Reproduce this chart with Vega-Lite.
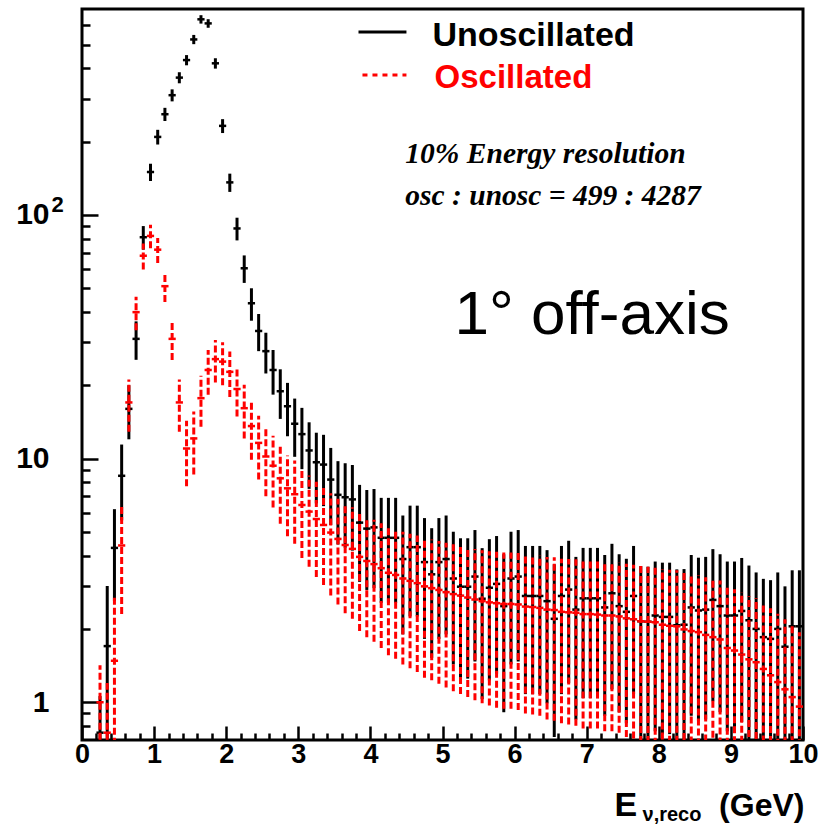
{
  "$schema": "https://vega.github.io/schema/vega-lite/v6.json",
  "width": 721,
  "height": 731,
  "autosize": {"type": "none"},
  "padding": {"left": 82, "top": 9, "right": 15, "bottom": 88},
  "background": "white",
  "config": {"view": {"stroke": "black", "strokeWidth": 3}, "axis": {"grid": false, "domain": false}},
  "resolve": {"axis": {"x": "independent", "y": "independent"}},
  "datasets": {
    "unosc": [
      {"x":0.25,"x0":0.2,"x1":0.3,"v":0.75,"lo":0.3,"hi":1.06},
      {"x":0.35,"x0":0.3,"x1":0.4,"v":1.7,"lo":0.45,"hi":3.0},
      {"x":0.45,"x0":0.4,"x1":0.5,"v":4.3,"lo":2.6,"hi":6.2},
      {"x":0.55,"x0":0.5,"x1":0.6,"v":8.5,"lo":5.58,"hi":11.42},
      {"x":0.65,"x0":0.6,"x1":0.7,"v":16,"lo":12,"hi":20},
      {"x":0.75,"x0":0.7,"x1":0.8,"v":31,"lo":25.43,"hi":36.57},
      {"x":0.85,"x0":0.8,"x1":0.9,"v":81,"lo":72,"hi":90},
      {"x":0.95,"x0":0.9,"x1":1.0,"v":150,"lo":137.8,"hi":162.2},
      {"x":1.05,"x0":1.0,"x1":1.1,"v":209,"lo":194.5,"hi":223.5},
      {"x":1.15,"x0":1.1,"x1":1.2,"v":259,"lo":242.9,"hi":275.1},
      {"x":1.25,"x0":1.2,"x1":1.3,"v":310,"lo":292.4,"hi":327.6},
      {"x":1.35,"x0":1.3,"x1":1.4,"v":366,"lo":346.9,"hi":385.1},
      {"x":1.45,"x0":1.4,"x1":1.5,"v":432,"lo":411.2,"hi":452.8},
      {"x":1.55,"x0":1.5,"x1":1.6,"v":525,"lo":502.1,"hi":547.9},
      {"x":1.65,"x0":1.6,"x1":1.7,"v":635,"lo":609.8,"hi":660.2},
      {"x":1.75,"x0":1.7,"x1":1.8,"v":611,"lo":586.3,"hi":635.7},
      {"x":1.85,"x0":1.8,"x1":1.9,"v":419,"lo":398.5,"hi":439.5},
      {"x":1.95,"x0":1.9,"x1":2.0,"v":232,"lo":216.8,"hi":247.2},
      {"x":2.05,"x0":2.0,"x1":2.1,"v":136,"lo":124.3,"hi":147.7},
      {"x":2.15,"x0":2.1,"x1":2.2,"v":88,"lo":78.6,"hi":97.4},
      {"x":2.25,"x0":2.2,"x1":2.3,"v":60.4,"lo":52.6,"hi":68.2},
      {"x":2.35,"x0":2.3,"x1":2.4,"v":43.4,"lo":36.8,"hi":50.0},
      {"x":2.45,"x0":2.4,"x1":2.5,"v":33.4,"lo":27.6,"hi":39.2},
      {"x":2.55,"x0":2.5,"x1":2.6,"v":27.6,"lo":22.35,"hi":32.85},
      {"x":2.65,"x0":2.6,"x1":2.7,"v":23.1,"lo":18.3,"hi":27.9},
      {"x":2.75,"x0":2.7,"x1":2.8,"v":18.9,"lo":14.55,"hi":23.25},
      {"x":2.85,"x0":2.8,"x1":2.9,"v":16.4,"lo":12.35,"hi":20.45},
      {"x":2.95,"x0":2.9,"x1":3.0,"v":13.9,"lo":10.17,"hi":17.63},
      {"x":3.05,"x0":3.0,"x1":3.1,"v":12.6,"lo":9.05,"hi":16.15},
      {"x":3.15,"x0":3.1,"x1":3.2,"v":10.8,"lo":7.51,"hi":14.09},
      {"x":3.25,"x0":3.2,"x1":3.3,"v":9.66,"lo":6.55,"hi":12.77},
      {"x":3.35,"x0":3.3,"x1":3.4,"v":9.45,"lo":6.38,"hi":12.52},
      {"x":3.45,"x0":3.4,"x1":3.5,"v":8.2,"lo":5.34,"hi":11.06},
      {"x":3.55,"x0":3.5,"x1":3.6,"v":7.1,"lo":4.44,"hi":9.76},
      {"x":3.65,"x0":3.6,"x1":3.7,"v":6.94,"lo":4.31,"hi":9.57},
      {"x":3.75,"x0":3.7,"x1":3.8,"v":6.8,"lo":4.19,"hi":9.41},
      {"x":3.85,"x0":3.8,"x1":3.9,"v":5.46,"lo":3.12,"hi":7.8},
      {"x":3.95,"x0":3.9,"x1":4.0,"v":5.16,"lo":2.89,"hi":7.43},
      {"x":4.05,"x0":4.0,"x1":4.1,"v":5.22,"lo":2.94,"hi":7.5},
      {"x":4.15,"x0":4.1,"x1":4.2,"v":4.73,"lo":2.56,"hi":6.9},
      {"x":4.25,"x0":4.2,"x1":4.3,"v":4.73,"lo":2.56,"hi":6.9},
      {"x":4.35,"x0":4.3,"x1":4.4,"v":4.73,"lo":2.56,"hi":6.9},
      {"x":4.45,"x0":4.4,"x1":4.5,"v":3.87,"lo":1.9,"hi":5.84},
      {"x":4.55,"x0":4.5,"x1":4.6,"v":4.33,"lo":2.25,"hi":6.41},
      {"x":4.65,"x0":4.6,"x1":4.7,"v":4.33,"lo":2.25,"hi":6.41},
      {"x":4.75,"x0":4.7,"x1":4.8,"v":3.76,"lo":1.82,"hi":5.7},
      {"x":4.85,"x0":4.8,"x1":4.9,"v":3.35,"lo":1.52,"hi":5.18},
      {"x":4.95,"x0":4.9,"x1":5.0,"v":3.76,"lo":1.82,"hi":5.7},
      {"x":5.05,"x0":5.0,"x1":5.1,"v":3.87,"lo":1.9,"hi":5.84},
      {"x":5.15,"x0":5.1,"x1":5.2,"v":3.22,"lo":1.43,"hi":5.01},
      {"x":5.25,"x0":5.2,"x1":5.3,"v":2.98,"lo":1.25,"hi":4.71},
      {"x":5.35,"x0":5.3,"x1":5.4,"v":2.98,"lo":1.25,"hi":4.71},
      {"x":5.45,"x0":5.4,"x1":5.5,"v":3.28,"lo":1.47,"hi":5.09},
      {"x":5.55,"x0":5.5,"x1":5.6,"v":2.66,"lo":1.03,"hi":4.29},
      {"x":5.65,"x0":5.6,"x1":5.7,"v":2.95,"lo":1.23,"hi":4.67},
      {"x":5.75,"x0":5.7,"x1":5.8,"v":3.06,"lo":1.31,"hi":4.81},
      {"x":5.85,"x0":5.8,"x1":5.9,"v":2.48,"lo":0.91,"hi":4.05},
      {"x":5.95,"x0":5.9,"x1":6.0,"v":3.22,"lo":1.43,"hi":5.01},
      {"x":6.05,"x0":6.0,"x1":6.1,"v":3.28,"lo":1.47,"hi":5.09},
      {"x":6.15,"x0":6.1,"x1":6.2,"v":2.73,"lo":1.08,"hi":4.38},
      {"x":6.25,"x0":6.2,"x1":6.3,"v":2.73,"lo":1.08,"hi":4.38},
      {"x":6.35,"x0":6.3,"x1":6.4,"v":2.73,"lo":1.08,"hi":4.38},
      {"x":6.45,"x0":6.4,"x1":6.5,"v":2.6,"lo":0.99,"hi":4.21},
      {"x":6.55,"x0":6.5,"x1":6.6,"v":2.2,"lo":0.72,"hi":3.68},
      {"x":6.65,"x0":6.6,"x1":6.7,"v":2.73,"lo":1.08,"hi":4.38},
      {"x":6.75,"x0":6.7,"x1":6.8,"v":2.9,"lo":1.2,"hi":4.6},
      {"x":6.85,"x0":6.8,"x1":6.9,"v":2.4,"lo":0.85,"hi":3.95},
      {"x":6.95,"x0":6.9,"x1":7.0,"v":2.67,"lo":1.04,"hi":4.3},
      {"x":7.05,"x0":7.0,"x1":7.1,"v":2.67,"lo":1.04,"hi":4.3},
      {"x":7.15,"x0":7.1,"x1":7.2,"v":2.67,"lo":1.04,"hi":4.3},
      {"x":7.25,"x0":7.2,"x1":7.3,"v":2.45,"lo":0.88,"hi":4.02},
      {"x":7.35,"x0":7.3,"x1":7.4,"v":2.8,"lo":1.13,"hi":4.47},
      {"x":7.45,"x0":7.4,"x1":7.5,"v":2.48,"lo":0.91,"hi":4.05},
      {"x":7.55,"x0":7.5,"x1":7.6,"v":2.35,"lo":0.82,"hi":3.88},
      {"x":7.65,"x0":7.6,"x1":7.7,"v":2.73,"lo":1.08,"hi":4.38},
      {"x":7.75,"x0":7.7,"x1":7.8,"v":2.15,"lo":0.68,"hi":3.62},
      {"x":7.85,"x0":7.8,"x1":7.9,"v":2.14,"lo":0.68,"hi":3.6},
      {"x":7.95,"x0":7.9,"x1":8.0,"v":2.27,"lo":0.76,"hi":3.78},
      {"x":8.05,"x0":8.0,"x1":8.1,"v":2.24,"lo":0.74,"hi":3.74},
      {"x":8.15,"x0":8.1,"x1":8.2,"v":2.24,"lo":0.74,"hi":3.74},
      {"x":8.25,"x0":8.2,"x1":8.3,"v":2.07,"lo":0.63,"hi":3.51},
      {"x":8.35,"x0":8.3,"x1":8.4,"v":2.08,"lo":0.64,"hi":3.52},
      {"x":8.45,"x0":8.4,"x1":8.5,"v":2.45,"lo":0.88,"hi":4.02},
      {"x":8.55,"x0":8.5,"x1":8.6,"v":2.38,"lo":0.84,"hi":3.92},
      {"x":8.65,"x0":8.6,"x1":8.7,"v":2.4,"lo":0.85,"hi":3.95},
      {"x":8.75,"x0":8.7,"x1":8.8,"v":2.63,"lo":1.01,"hi":4.25},
      {"x":8.85,"x0":8.8,"x1":8.9,"v":2.48,"lo":0.91,"hi":4.05},
      {"x":8.95,"x0":8.9,"x1":9.0,"v":2.27,"lo":0.76,"hi":3.78},
      {"x":9.05,"x0":9.0,"x1":9.1,"v":2.27,"lo":0.76,"hi":3.78},
      {"x":9.15,"x0":9.1,"x1":9.2,"v":2.37,"lo":0.83,"hi":3.91},
      {"x":9.25,"x0":9.2,"x1":9.3,"v":2.17,"lo":0.7,"hi":3.64},
      {"x":9.35,"x0":9.3,"x1":9.4,"v":2.0,"lo":0.59,"hi":3.41},
      {"x":9.45,"x0":9.4,"x1":9.5,"v":1.85,"lo":0.49,"hi":3.21},
      {"x":9.55,"x0":9.5,"x1":9.6,"v":1.82,"lo":0.47,"hi":3.17},
      {"x":9.65,"x0":9.6,"x1":9.7,"v":2.0,"lo":0.59,"hi":3.41},
      {"x":9.75,"x0":9.7,"x1":9.8,"v":1.69,"lo":0.39,"hi":2.99},
      {"x":9.85,"x0":9.8,"x1":9.9,"v":2.05,"lo":0.62,"hi":3.48},
      {"x":9.95,"x0":9.9,"x1":10.0,"v":2.05,"lo":0.62,"hi":3.48}
    ],
    "osc": [
      {"x":0.25,"x0":0.2,"x1":0.3,"v":1.0,"lo":0.3,"hi":1.42},
      {"x":0.35,"x0":0.3,"x1":0.4,"v":0.75,"lo":0.3,"hi":1.2},
      {"x":0.45,"x0":0.4,"x1":0.5,"v":1.48,"lo":0.26,"hi":2.7},
      {"x":0.55,"x0":0.5,"x1":0.6,"v":4.4,"lo":2.3,"hi":6.5},
      {"x":0.65,"x0":0.6,"x1":0.7,"v":17.0,"lo":12.88,"hi":21.12},
      {"x":0.75,"x0":0.7,"x1":0.8,"v":39.9,"lo":33.6,"hi":46.2},
      {"x":0.85,"x0":0.8,"x1":0.9,"v":68,"lo":59.75,"hi":76.25},
      {"x":0.95,"x0":0.9,"x1":1.0,"v":82,"lo":72.94,"hi":91.06},
      {"x":1.05,"x0":1.0,"x1":1.1,"v":72,"lo":63.5,"hi":80.5},
      {"x":1.15,"x0":1.1,"x1":1.2,"v":51,"lo":43.9,"hi":58.1},
      {"x":1.25,"x0":1.2,"x1":1.3,"v":31,"lo":25.4,"hi":36.6},
      {"x":1.35,"x0":1.3,"x1":1.4,"v":17,"lo":12.9,"hi":21.1},
      {"x":1.45,"x0":1.4,"x1":1.5,"v":11,"lo":7.7,"hi":14.3},
      {"x":1.55,"x0":1.5,"x1":1.6,"v":12.1,"lo":8.6,"hi":15.6},
      {"x":1.65,"x0":1.6,"x1":1.7,"v":17.7,"lo":13.5,"hi":21.9},
      {"x":1.75,"x0":1.7,"x1":1.8,"v":23.1,"lo":18.3,"hi":27.9},
      {"x":1.85,"x0":1.8,"x1":1.9,"v":25.6,"lo":20.5,"hi":30.7},
      {"x":1.95,"x0":1.9,"x1":2.0,"v":25.0,"lo":20.0,"hi":30.0},
      {"x":2.05,"x0":2.0,"x1":2.1,"v":22.7,"lo":17.9,"hi":27.5},
      {"x":2.15,"x0":2.1,"x1":2.2,"v":19.3,"lo":14.9,"hi":23.7},
      {"x":2.25,"x0":2.2,"x1":2.3,"v":16.1,"lo":12.1,"hi":20.1},
      {"x":2.35,"x0":2.3,"x1":2.4,"v":13.6,"lo":9.9,"hi":17.3},
      {"x":2.45,"x0":2.4,"x1":2.5,"v":11.6,"lo":8.2,"hi":15.0},
      {"x":2.55,"x0":2.5,"x1":2.6,"v":10.2,"lo":7.0,"hi":13.4},
      {"x":2.65,"x0":2.6,"x1":2.7,"v":9.35,"lo":6.3,"hi":12.4},
      {"x":2.75,"x0":2.7,"x1":2.8,"v":8.3,"lo":5.4,"hi":11.2},
      {"x":2.85,"x0":2.8,"x1":2.9,"v":7.55,"lo":4.8,"hi":10.3},
      {"x":2.95,"x0":2.9,"x1":3.0,"v":7.14,"lo":4.47,"hi":9.81},
      {"x":3.05,"x0":3.0,"x1":3.1,"v":6.45,"lo":3.91,"hi":8.99},
      {"x":3.15,"x0":3.1,"x1":3.2,"v":6.06,"lo":3.6,"hi":8.52},
      {"x":3.25,"x0":3.2,"x1":3.3,"v":5.65,"lo":3.27,"hi":8.03},
      {"x":3.35,"x0":3.3,"x1":3.4,"v":5.34,"lo":3.03,"hi":7.65},
      {"x":3.45,"x0":3.4,"x1":3.5,"v":4.97,"lo":2.74,"hi":7.2},
      {"x":3.55,"x0":3.5,"x1":3.6,"v":4.68,"lo":2.52,"hi":6.84},
      {"x":3.65,"x0":3.6,"x1":3.7,"v":4.42,"lo":2.32,"hi":6.52},
      {"x":3.75,"x0":3.7,"x1":3.8,"v":4.26,"lo":2.2,"hi":6.32},
      {"x":3.85,"x0":3.8,"x1":3.9,"v":3.95,"lo":1.96,"hi":5.94},
      {"x":3.95,"x0":3.9,"x1":4.0,"v":3.8,"lo":1.85,"hi":5.75},
      {"x":4.05,"x0":4.0,"x1":4.1,"v":3.69,"lo":1.77,"hi":5.61},
      {"x":4.15,"x0":4.1,"x1":4.2,"v":3.55,"lo":1.67,"hi":5.43},
      {"x":4.25,"x0":4.2,"x1":4.3,"v":3.4,"lo":1.56,"hi":5.24},
      {"x":4.35,"x0":4.3,"x1":4.4,"v":3.33,"lo":1.51,"hi":5.15},
      {"x":4.45,"x0":4.4,"x1":4.5,"v":3.22,"lo":1.43,"hi":5.01},
      {"x":4.55,"x0":4.5,"x1":4.6,"v":3.15,"lo":1.38,"hi":4.92},
      {"x":4.65,"x0":4.6,"x1":4.7,"v":3.08,"lo":1.33,"hi":4.83},
      {"x":4.75,"x0":4.7,"x1":4.8,"v":2.99,"lo":1.26,"hi":4.72},
      {"x":4.85,"x0":4.8,"x1":4.9,"v":2.94,"lo":1.23,"hi":4.65},
      {"x":4.95,"x0":4.9,"x1":5.0,"v":2.89,"lo":1.19,"hi":4.59},
      {"x":5.05,"x0":5.0,"x1":5.1,"v":2.83,"lo":1.15,"hi":4.51},
      {"x":5.15,"x0":5.1,"x1":5.2,"v":2.78,"lo":1.11,"hi":4.45},
      {"x":5.25,"x0":5.2,"x1":5.3,"v":2.74,"lo":1.08,"hi":4.4},
      {"x":5.35,"x0":5.3,"x1":5.4,"v":2.69,"lo":1.05,"hi":4.33},
      {"x":5.45,"x0":5.4,"x1":5.5,"v":2.64,"lo":1.02,"hi":4.26},
      {"x":5.55,"x0":5.5,"x1":5.6,"v":2.6,"lo":0.99,"hi":4.21},
      {"x":5.65,"x0":5.6,"x1":5.7,"v":2.57,"lo":0.97,"hi":4.17},
      {"x":5.75,"x0":5.7,"x1":5.8,"v":2.55,"lo":0.95,"hi":4.15},
      {"x":5.85,"x0":5.8,"x1":5.9,"v":2.53,"lo":0.94,"hi":4.12},
      {"x":5.95,"x0":5.9,"x1":6.0,"v":2.53,"lo":0.94,"hi":4.12},
      {"x":6.05,"x0":6.0,"x1":6.1,"v":2.52,"lo":0.93,"hi":4.11},
      {"x":6.15,"x0":6.1,"x1":6.2,"v":2.47,"lo":0.9,"hi":4.04},
      {"x":6.25,"x0":6.2,"x1":6.3,"v":2.46,"lo":0.89,"hi":4.03},
      {"x":6.35,"x0":6.3,"x1":6.4,"v":2.44,"lo":0.88,"hi":4.0},
      {"x":6.45,"x0":6.4,"x1":6.5,"v":2.4,"lo":0.85,"hi":3.95},
      {"x":6.55,"x0":6.5,"x1":6.6,"v":2.39,"lo":0.84,"hi":3.94},
      {"x":6.65,"x0":6.6,"x1":6.7,"v":2.35,"lo":0.82,"hi":3.88},
      {"x":6.75,"x0":6.7,"x1":6.8,"v":2.34,"lo":0.81,"hi":3.87},
      {"x":6.85,"x0":6.8,"x1":6.9,"v":2.33,"lo":0.8,"hi":3.86},
      {"x":6.95,"x0":6.9,"x1":7.0,"v":2.3,"lo":0.78,"hi":3.82},
      {"x":7.05,"x0":7.0,"x1":7.1,"v":2.3,"lo":0.78,"hi":3.82},
      {"x":7.15,"x0":7.1,"x1":7.2,"v":2.29,"lo":0.78,"hi":3.8},
      {"x":7.25,"x0":7.2,"x1":7.3,"v":2.27,"lo":0.76,"hi":3.78},
      {"x":7.35,"x0":7.3,"x1":7.4,"v":2.27,"lo":0.76,"hi":3.78},
      {"x":7.45,"x0":7.4,"x1":7.5,"v":2.25,"lo":0.75,"hi":3.75},
      {"x":7.55,"x0":7.5,"x1":7.6,"v":2.21,"lo":0.72,"hi":3.7},
      {"x":7.65,"x0":7.6,"x1":7.7,"v":2.19,"lo":0.71,"hi":3.67},
      {"x":7.75,"x0":7.7,"x1":7.8,"v":2.15,"lo":0.68,"hi":3.62},
      {"x":7.85,"x0":7.8,"x1":7.9,"v":2.14,"lo":0.68,"hi":3.6},
      {"x":7.95,"x0":7.9,"x1":8.0,"v":2.13,"lo":0.67,"hi":3.59},
      {"x":8.05,"x0":8.0,"x1":8.1,"v":2.08,"lo":0.64,"hi":3.52},
      {"x":8.15,"x0":8.1,"x1":8.2,"v":2.06,"lo":0.62,"hi":3.5},
      {"x":8.25,"x0":8.2,"x1":8.3,"v":2.05,"lo":0.62,"hi":3.48},
      {"x":8.35,"x0":8.3,"x1":8.4,"v":1.99,"lo":0.58,"hi":3.4},
      {"x":8.45,"x0":8.4,"x1":8.5,"v":1.96,"lo":0.56,"hi":3.36},
      {"x":8.55,"x0":8.5,"x1":8.6,"v":1.94,"lo":0.55,"hi":3.33},
      {"x":8.65,"x0":8.6,"x1":8.7,"v":1.89,"lo":0.52,"hi":3.26},
      {"x":8.75,"x0":8.7,"x1":8.8,"v":1.85,"lo":0.49,"hi":3.21},
      {"x":8.85,"x0":8.8,"x1":8.9,"v":1.81,"lo":0.46,"hi":3.16},
      {"x":8.95,"x0":8.9,"x1":9.0,"v":1.67,"lo":0.38,"hi":2.96},
      {"x":9.05,"x0":9.0,"x1":9.1,"v":1.63,"lo":0.35,"hi":2.91},
      {"x":9.15,"x0":9.1,"x1":9.2,"v":1.57,"lo":0.32,"hi":2.82},
      {"x":9.25,"x0":9.2,"x1":9.3,"v":1.5,"lo":0.28,"hi":2.72},
      {"x":9.35,"x0":9.3,"x1":9.4,"v":1.46,"lo":0.25,"hi":2.67},
      {"x":9.45,"x0":9.4,"x1":9.5,"v":1.37,"lo":0.2,"hi":2.54},
      {"x":9.55,"x0":9.5,"x1":9.6,"v":1.29,"lo":0.15,"hi":2.43},
      {"x":9.65,"x0":9.6,"x1":9.7,"v":1.21,"lo":0.11,"hi":2.31},
      {"x":9.75,"x0":9.7,"x1":9.8,"v":1.13,"lo":0.07,"hi":2.19},
      {"x":9.85,"x0":9.8,"x1":9.9,"v":1.05,"lo":0.03,"hi":2.07},
      {"x":9.95,"x0":9.9,"x1":10.0,"v":0.96,"lo":0.02,"hi":1.94}
    ]
  },
  "layer": [
    {
      "data": {"name": "unosc"},
      "mark": {"type": "rule", "color": "black", "strokeWidth": 3, "clip": true},
      "encoding": {
        "x": {"field": "x", "type": "quantitative",
              "scale": {"domain": [0, 10], "nice": false, "zero": false},
              "axis": {"orient": "bottom", "values": [0,1,2,3,4,5,6,7,8,9,10], "tickSize": -14, "tickWidth": 2.5, "tickColor": "black",
                       "labelFont": "Liberation Sans", "labelFontWeight": "bold", "labelFontSize": 27, "labelColor": "black",
                       "labelPadding": 15, "labelFlush": false, "labelOverlap": false, "title": null, "domain": false, "grid": false}},
        "y": {"field": "lo", "type": "quantitative",
              "scale": {"type": "log", "domain": [0.7, 700], "nice": false},
              "axis": {"orient": "left", "values": [1, 10, 100], "tickSize": -16, "tickWidth": 2.5, "tickColor": "black",
                       "labelExpr": "datum.value >= 10 ? '10' : '1'",
                       "labelFont": "Liberation Sans", "labelFontWeight": "bold", "labelFontSize": 30, "labelColor": "black",
                       "labelPadding": 49, "labelOverlap": false, "title": null, "domain": false, "grid": false}},
        "y2": {"field": "hi"}
      }
    },
    {
      "data": {"name": "unosc"},
      "mark": {"type": "rule", "color": "black", "strokeWidth": 2.5, "clip": true},
      "encoding": {
        "x": {"field": "x0", "type": "quantitative",
              "axis": {"orient": "bottom", "values": [0.2,0.4,0.6,0.8,1.2,1.4,1.6,1.8,2.2,2.4,2.6,2.8,3.2,3.4,3.6,3.8,4.2,4.4,4.6,4.8,5.2,5.4,5.6,5.8,6.2,6.4,6.6,6.8,7.2,7.4,7.6,7.8,8.2,8.4,8.6,8.8,9.2,9.4,9.6,9.8],
                       "tickSize": -7, "tickWidth": 2.5, "tickColor": "black", "labels": false, "title": null, "domain": false, "grid": false}},
        "x2": {"field": "x1"},
        "y": {"field": "v", "type": "quantitative",
              "axis": {"orient": "left", "values": [0.8,0.9,2,3,4,5,6,7,8,9,20,30,40,50,60,70,80,90,200,300,400,500,600],
                       "tickSize": -8, "tickWidth": 2.5, "tickColor": "black", "labels": false, "title": null, "domain": false, "grid": false}}
      }
    },
    {
      "data": {"name": "osc"},
      "mark": {"type": "rule", "color": "#ff0000", "strokeWidth": 3, "strokeDash": [7, 3], "clip": true},
      "encoding": {
        "x": {"field": "x", "type": "quantitative", "axis": null},
        "y": {"field": "lo", "type": "quantitative", "axis": null},
        "y2": {"field": "hi"}
      }
    },
    {
      "data": {"name": "osc"},
      "mark": {"type": "rule", "color": "#ff0000", "strokeWidth": 2.5, "clip": true},
      "encoding": {
        "x": {"field": "x0", "type": "quantitative", "axis": null},
        "x2": {"field": "x1"},
        "y": {"field": "v", "type": "quantitative", "axis": null}
      }
    },
    {
      "data": {"values": [{"x0": 3.835, "x1": 4.5, "y": 563}]},
      "mark": {"type": "rule", "color": "black", "strokeWidth": 3},
      "encoding": {
        "x": {"field": "x0", "type": "quantitative", "axis": null},
        "x2": {"field": "x1"},
        "y": {"field": "y", "type": "quantitative", "axis": null}
      }
    },
    {
      "data": {"values": [{"x0": 3.89, "x1": 4.5, "y": 375}]},
      "mark": {"type": "rule", "color": "#ff0000", "strokeWidth": 3, "strokeDash": [5, 5]},
      "encoding": {
        "x": {"field": "x0", "type": "quantitative", "axis": null},
        "x2": {"field": "x1"},
        "y": {"field": "y", "type": "quantitative", "axis": null}
      }
    },
    {
      "data": {"values": [{"t": "Unoscillated", "x": 4.86, "y": 493}]},
      "mark": {"type": "text", "align": "left", "baseline": "alphabetic", "font": "Liberation Sans", "fontWeight": "bold", "fontSize": 34, "color": "black"},
      "encoding": {"x": {"field": "x", "type": "quantitative", "axis": null}, "y": {"field": "y", "type": "quantitative", "axis": null}, "text": {"field": "t"}}
    },
    {
      "data": {"values": [{"t": "Oscillated", "x": 4.89, "y": 332}]},
      "mark": {"type": "text", "align": "left", "baseline": "alphabetic", "font": "Liberation Sans", "fontWeight": "bold", "fontSize": 33, "color": "#ff0000"},
      "encoding": {"x": {"field": "x", "type": "quantitative", "axis": null}, "y": {"field": "y", "type": "quantitative", "axis": null}, "text": {"field": "t"}}
    },
    {
      "data": {"values": [{"t": "10% Energy resolution", "x": 4.485, "y": 163}, {"t": "osc : unosc = 499 : 4287", "x": 4.485, "y": 110}]},
      "mark": {"type": "text", "align": "left", "baseline": "alphabetic", "font": "Liberation Serif", "fontWeight": "bold", "fontStyle": "italic", "fontSize": 29.5, "color": "black"},
      "encoding": {"x": {"field": "x", "type": "quantitative", "axis": null}, "y": {"field": "y", "type": "quantitative", "axis": null}, "text": {"field": "t"}}
    },
    {
      "data": {"values": [{"t": "1° off-axis", "x": 5.166, "y": 32.5}]},
      "mark": {"type": "text", "align": "left", "baseline": "alphabetic", "font": "Liberation Sans", "fontSize": 62, "color": "black"},
      "encoding": {"x": {"field": "x", "type": "quantitative", "axis": null}, "y": {"field": "y", "type": "quantitative", "axis": null}, "text": {"field": "t"}}
    },
    {
      "data": {"values": [{"t": "2", "x": -0.423, "y": 102.8}]},
      "mark": {"type": "text", "align": "left", "baseline": "alphabetic", "font": "Liberation Sans", "fontWeight": "bold", "fontSize": 22, "color": "black", "clip": false},
      "encoding": {"x": {"field": "x", "type": "quantitative", "axis": null}, "y": {"field": "y", "type": "quantitative", "axis": null}, "text": {"field": "t"}}
    },
    {
      "data": {"values": [{"t": "E", "x": 7.386, "y": 0.34}]},
      "mark": {"type": "text", "align": "left", "baseline": "alphabetic", "font": "Liberation Sans", "fontWeight": "bold", "fontSize": 34, "color": "black"},
      "encoding": {"x": {"field": "x", "type": "quantitative", "axis": null}, "y": {"field": "y", "type": "quantitative", "axis": null}, "text": {"field": "t"}}
    },
    {
      "data": {"values": [{"t": "(GeV)", "x": 10.02, "y": 0.34}]},
      "mark": {"type": "text", "align": "right", "baseline": "alphabetic", "font": "Liberation Sans", "fontWeight": "bold", "fontSize": 32, "color": "black"},
      "encoding": {"x": {"field": "x", "type": "quantitative", "axis": null}, "y": {"field": "y", "type": "quantitative", "axis": null}, "text": {"field": "t"}}
    },
    {
      "data": {"values": [{"t": "ν,reco", "x": 7.774, "y": 0.325}]},
      "mark": {"type": "text", "align": "left", "baseline": "alphabetic", "font": "Liberation Sans", "fontWeight": "bold", "fontSize": 20, "color": "black"},
      "encoding": {"x": {"field": "x", "type": "quantitative", "axis": null}, "y": {"field": "y", "type": "quantitative", "axis": null}, "text": {"field": "t"}}
    }
  ]
}
